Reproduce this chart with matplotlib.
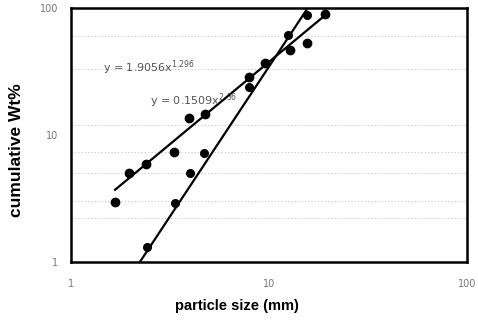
import numpy as np
import matplotlib.pyplot as plt

# data
size_a = [1.67, 1.97, 2.38, 3.32, 3.96, 4.75, 7.95, 9.55, 12.7, 15.6, 19.2]
wt_a = [2.97, 5.0, 5.9, 7.3, 13.5, 14.6, 28.5, 36.7, 46.7, 52.7, 89.8]
size_b = [2.41, 3.35, 3.99, 4.71, 7.89, 12.5, 15.5]
wt_b = [1.32, 2.9, 5.0, 7.2, 23.8, 61.3, 88.0]

# power-law fits y = a * x^b
coef_a, exp_a = 1.9056, 1.296
coef_b, exp_b = 0.1509, 2.36
range_a = (1.67, 19.2)
range_b = (2.23, 15.5)

fig = plt.figure(figsize=(4.78, 3.23), dpi=100)
ax = fig.add_axes([0.1485, 0.189, 0.8285, 0.786])

ax.set_xscale('log')
ax.set_yscale('log')
ax.set_xlim(1, 100)
ax.set_ylim(1, 100)

# faint dotted scan lines
for yv in [2.2, 3.0, 5.0, 7.3, 12, 33, 60]:
    ax.axhline(yv, color='#c4c4c4', lw=0.8, ls=(0, (1, 2)), zorder=0)

xa = np.linspace(range_a[0], range_a[1], 50)
xb = np.linspace(range_b[0], range_b[1], 50)
ax.plot(xa, coef_a * xa ** exp_a, color='black', lw=1.6)
ax.plot(xb, coef_b * xb ** exp_b, color='black', lw=1.6)

ax.plot(size_a, wt_a, 'o', color='black', ms=6, mec='black', clip_on=False)
ax.plot(size_b, wt_b, 'o', color='black', ms=5.5, mec='black', clip_on=False)

ax.text(1.45, 33.7, 'y = 1.9056x$^{1.296}$', fontsize=8, color='#555555', va='center')
ax.text(2.5, 18.5, 'y = 0.1509x$^{2.36}$', fontsize=8, color='#555555', va='center')

ax.set_xticks([1, 10, 100])
ax.set_xticklabels(['1', '10', '100'])
ax.set_yticks([1, 10, 100])
ax.set_yticklabels(['1', '10', '100'])
ax.minorticks_off()
ax.tick_params(length=0, labelsize=7, colors='#777777', pad=12)
ax.tick_params(axis='y', pad=9)

for s in ax.spines.values():
    s.set_linewidth(1.8)
    s.set_color('black')

ax.set_xlabel('particle size (mm)', fontsize=10.5, fontweight='bold', family='Liberation Sans')
ax.set_ylabel('cumulative Wt%', fontsize=12.5, fontweight='bold', family='Liberation Sans')
ax.xaxis.set_label_coords(0.42, -0.145)
ax.yaxis.set_label_coords(-0.118, 0.44)

fig.savefig('out.png', dpi=100)
